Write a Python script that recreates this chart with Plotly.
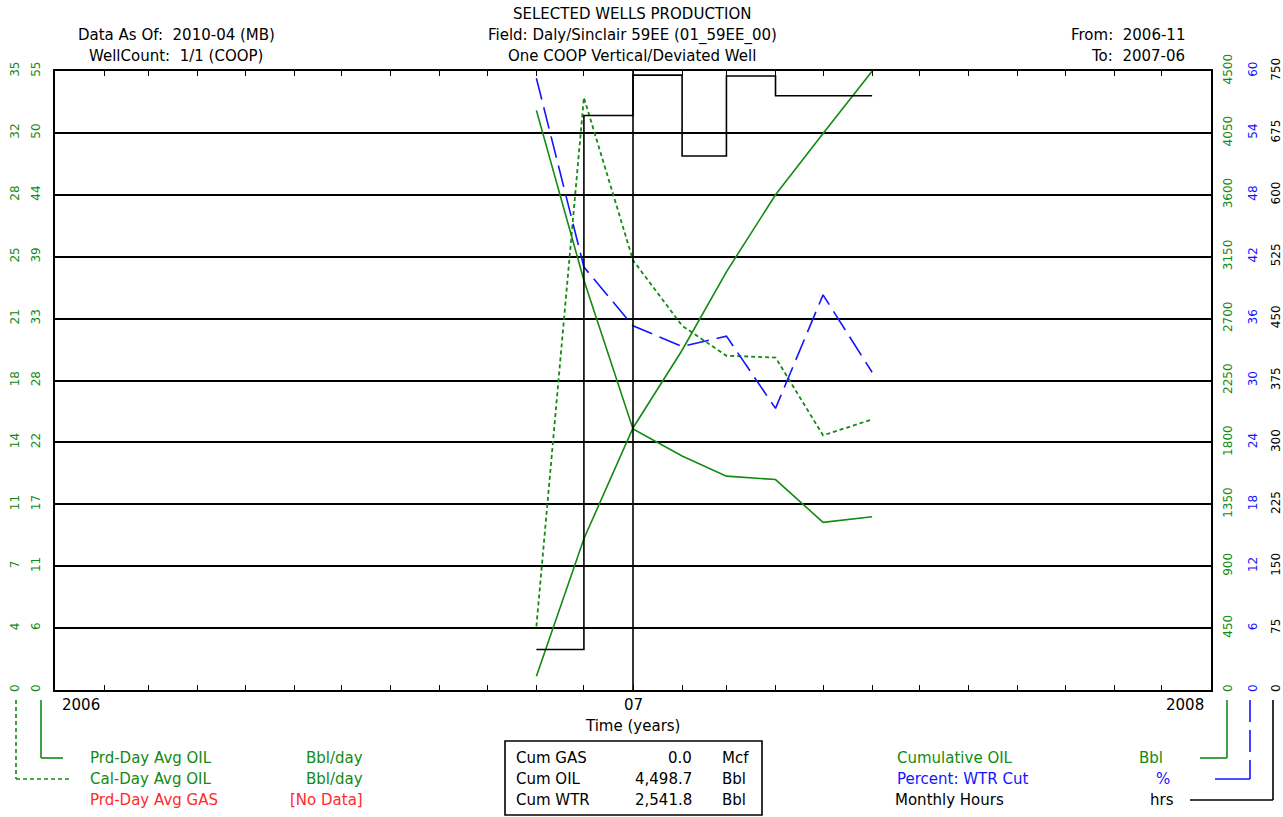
import pandas as pd
import plotly.graph_objects as go

# monthly production, 2006-11 .. 2007-06
months = ["2006-11-01", "2006-12-01", "2007-01-01", "2007-02-01",
          "2007-03-01", "2007-04-01", "2007-05-01", "2007-06-01"]
prd_day_oil = [51.5, 36.4, 23.2, 20.8, 19.0, 18.7, 14.9, 15.4]
cal_day_oil = [3.6, 33.5, 24.3, 20.6, 18.9, 18.8, 14.4, 15.3]
cum_oil = [100, 1100, 1905, 2470, 3040, 3600, 4045, 4498.7]
wtr_cut = [59.3, 41.0, 35.3, 33.3, 34.3, 27.3, 38.3, 30.8]
monthly_hours = [49, 696, 745, 647, 744, 720, 720, 720]

# axis labels as printed
prd_ticks = ["0", "6", "11", "17", "22", "28", "33", "39", "44", "50", "55"]
cal_ticks = ["0", "4", "7", "11", "14", "18", "21", "25", "28", "32", "35"]
cum_ticks = ["0", "450", "900", "1350", "1800", "2250", "2700", "3150", "3600", "4050", "4500"]
wtr_ticks = ["0", "6", "12", "18", "24", "30", "36", "42", "48", "54", "60"]
hrs_ticks = ["0", "75", "150", "225", "300", "375", "450", "525", "600", "675", "750"]
year_labels = ["2006", "07", "2008"]
year_dates = ["2006-01-01", "2007-01-01", "2008-01-01"]

cum_box = [("Cum GAS", "0.0", "Mcf"), ("Cum OIL", "4,498.7", "Bbl"), ("Cum WTR", "2,541.8", "Bbl")]

W, H = 1283, 817
GREEN = "#138a13"
BLUE = "#1414ff"
RED = "#ff2a2a"
FONT = "DejaVu Sans"
FS = 15


def fx(px):
    return px / W


def fy(py):
    return 1 - py / H


def steps(top, n=10):
    return [top * i / n for i in range(n + 1)]


X0, X1, Y0, Y1 = 55, 1211, 71, 690
month_ticks = pd.date_range("2006-01-01", "2008-01-01", freq="MS")

fig = go.Figure()
fig.add_trace(go.Scatter(x=months, y=prd_day_oil, mode="lines", yaxis="y",
                         line=dict(color=GREEN, width=1.6)))
fig.add_trace(go.Scatter(x=months, y=cal_day_oil, mode="lines", yaxis="y2",
                         line=dict(color=GREEN, width=1.8, dash="4px,3px")))
fig.add_trace(go.Scatter(x=months, y=cum_oil, mode="lines", yaxis="y3",
                         line=dict(color=GREEN, width=1.6)))
fig.add_trace(go.Scatter(x=months, y=wtr_cut, mode="lines", yaxis="y4",
                         line=dict(color=BLUE, width=1.6, dash="22px,8px")))
fig.add_trace(go.Scatter(x=months, y=monthly_hours, mode="lines", yaxis="y5",
                         line=dict(color="black", width=1.6, shape="hv")))

tickfont = dict(family=FONT, size=12)
common_free = dict(overlaying="y", anchor="free", showgrid=False, showline=False,
                   zeroline=False, ticks="", tickangle=-90, tickmode="array",
                   automargin=False)

fig.update_layout(
    width=W, height=H, margin=dict(l=0, r=0, t=0, b=0, autoexpand=False),
    paper_bgcolor="white", plot_bgcolor="white", showlegend=False,
    xaxis=dict(type="date", domain=[fx(X0), fx(X1)],
               range=["2006-01-01", "2008-01-01"],
               tickmode="array", tickvals=list(month_ticks), showticklabels=False,
               ticks="inside", ticklen=5, tickwidth=1.2, tickcolor="black",
               showline=True, linecolor="black", linewidth=1.6, mirror="ticks",
               showgrid=False, zeroline=False, automargin=False),
    yaxis=dict(domain=[fy(Y1), fy(Y0)], range=[0, 55],
               tickmode="array", tickvals=steps(55), ticktext=prd_ticks,
               tickangle=-90, tickfont=dict(tickfont, color=GREEN),
               ticks="", ticklabelstandoff=8, automargin=False,
               showgrid=True, gridcolor="black", gridwidth=1.6,
               showline=True, linecolor="black", linewidth=1.6, mirror=True,
               zeroline=False),
    yaxis2=dict(common_free, side="left", position=fx(21), range=[0, 35],
                tickvals=steps(35), ticktext=cal_ticks,
                tickfont=dict(tickfont, color=GREEN)),
    yaxis3=dict(common_free, side="right", position=fx(1219), range=[0, 4500],
                tickvals=steps(4500), ticktext=cum_ticks,
                tickfont=dict(tickfont, color=GREEN)),
    yaxis4=dict(common_free, side="right", position=fx(1244), range=[0, 60],
                tickvals=steps(60), ticktext=wtr_ticks,
                tickfont=dict(tickfont, color=BLUE)),
    yaxis5=dict(common_free, side="right", position=fx(1267), range=[0, 750],
                tickvals=steps(750), ticktext=hrs_ticks,
                tickfont=dict(tickfont, color="black")),
)

# year boundary line
fig.add_shape(type="line", xref="x", yref="paper", x0="2007-01-01", x1="2007-01-01",
              y0=fy(Y1), y1=fy(Y0), line=dict(color="black", width=1.6))


def text(px, py, s, color="black", anchor="left", size=FS):
    fig.add_annotation(x=fx(px), y=fy(py), xref="paper", yref="paper", text=s,
                       showarrow=False, xanchor=anchor, yanchor="middle",
                       font=dict(family=FONT, size=size, color=color))


# header
text(632, 14, "SELECTED WELLS PRODUCTION", anchor="center")
text(632, 35, "Field: Daly/Sinclair 59EE (01_59EE_00)", anchor="center")
text(632, 56, "One COOP Vertical/Deviated Well", anchor="center")
text(277, 35, "Data As Of:  2010-04 (MB)", anchor="right")
text(265, 56, "WellCount:  1/1 (COOP)", anchor="right")
text(1187, 35, "From:  2006-11", anchor="right")
text(1187, 56, "To:  2007-06", anchor="right")

# x labels
for d, lab, anc in zip(year_dates, year_labels, ["left", "center", "right"]):
    fig.add_annotation(x=d, y=fy(705), xref="x", yref="paper", text=lab,
                       showarrow=False, xanchor=anc, yanchor="middle",
                       xshift={"left": 5, "center": 0, "right": -5}[anc],
                       font=dict(family=FONT, size=FS, color="black"))
text(632, 726, "Time (years)", anchor="center")

# left legend
text(88, 758, "Prd-Day Avg OIL", GREEN)
text(365, 758, "Bbl/day", GREEN, "right")
text(88, 779, "Cal-Day Avg OIL", GREEN)
text(365, 779, "Bbl/day", GREEN, "right")
text(88, 800, "Prd-Day Avg GAS", RED)
text(365, 800, "[No Data]", RED, "right")


def seg(x0, y0, x1, y1, color, dash="solid"):
    fig.add_shape(type="line", xref="paper", yref="paper",
                  x0=fx(x0), y0=fy(y0), x1=fx(x1), y1=fy(y1),
                  line=dict(color=color, width=1.6, dash=dash))


seg(41, 700, 41, 758, GREEN)
seg(41, 758, 63, 758, GREEN)
seg(16, 700, 16, 779, GREEN, "4px,3px")
seg(16, 779, 70, 779, GREEN, "4px,3px")

# cumulative box
fig.add_shape(type="rect", xref="paper", yref="paper",
              x0=fx(505), x1=fx(762), y0=fy(815), y1=fy(741),
              line=dict(color="black", width=1.6))
for i, (name, val, unit) in enumerate(cum_box):
    yy = 758 + 21 * i
    text(514, yy, name)
    text(694, yy, val, anchor="right")
    text(720, yy, unit)

# right legend
text(895, 758, "Cumulative OIL", GREEN)
text(1165, 758, "Bbl", GREEN, "right")
text(895, 779, "Percent: WTR Cut", BLUE)
text(1172, 779, "%", BLUE, "right")
text(893, 800, "Monthly Hours")
text(1176, 800, "hrs", anchor="right")

seg(1227, 700, 1227, 758, GREEN)
seg(1227, 758, 1200, 758, GREEN)
seg(1250, 700, 1250, 779, BLUE, "22px,8px")
seg(1250, 779, 1215, 779, BLUE)
seg(1273, 700, 1273, 800, "black")
seg(1273, 800, 1190, 800, "black")

fig.write_html("out.html", config={"displayModeBar": False},
               post_script="document.body.style.margin = '0px';")
